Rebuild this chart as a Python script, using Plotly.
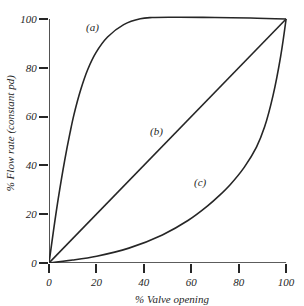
import plotly.graph_objects as go

# Data (% valve opening vs % flow rate)
quick_x = [0, 1.9, 4.0, 6.6, 8.9, 10.5, 13.4, 16.3, 19.8, 24.7, 31.5, 38.5, 43.5, 55, 70, 85, 100]
quick_y = [0, 13.3, 27.0, 42.0, 53.5, 60.7, 71.1, 79.2, 86.2, 92.6, 97.7, 100.1, 100.6, 100.7, 100.6, 100.4, 100]

linear_x = [0, 100]
linear_y = [0, 100]

eqp_x = [0, 10, 20.1, 33.7, 47.8, 58.6, 66.9, 71.9, 76.5, 82.4, 87.5, 90.9, 94.5, 97.7, 100]
eqp_y = [0, 1.2, 2.8, 6.1, 11.5, 17.4, 23.4, 27.7, 32.2, 39.3, 47.5, 55.7, 68.7, 84.7, 100]

tick_vals = [0, 20, 40, 60, 80, 100]
tick_text = ["0", "20", "40", "60", "80", "100"]

curve_labels = ["(a)", "(b)", "(c)"]
label_x = [18.3, 45.5, 64.0]
label_y = [96.5, 54.1, 33.0]

ink = "#262626"
font_family = "Liberation Serif"

fig = go.Figure()
for xs, ys in [(quick_x, quick_y), (linear_x, linear_y), (eqp_x, eqp_y)]:
    fig.add_trace(go.Scatter(x=xs, y=ys, mode="lines",
                             line=dict(color=ink, width=1.6, shape="spline", smoothing=1.0),
                             showlegend=False, hoverinfo="skip"))

for t, lx, ly in zip(curve_labels, label_x, label_y):
    fig.add_annotation(x=lx, y=ly, text=t, showarrow=False,
                       font=dict(family=font_family, size=11, color=ink, style="italic"))

# axis lines from 0 to 100
fig.add_shape(type="line", xref="x", yref="y", x0=0, y0=0, x1=100, y1=0,
              line=dict(color=ink, width=1.6))
fig.add_shape(type="line", xref="x", yref="y", x0=0, y0=0, x1=0, y1=100,
              line=dict(color=ink, width=1.6))

fig.add_annotation(xref="paper", yref="paper", x=0.516, y=-0.145,
                   xanchor="center", yanchor="middle",
                   text="% Valve opening", showarrow=False,
                   font=dict(family=font_family, size=11, color=ink, style="italic"))
fig.add_annotation(xref="paper", yref="paper", x=-0.162, y=0.522,
                   xanchor="center", yanchor="middle",
                   text="% Flow rate (constant pd)", showarrow=False, textangle=-90,
                   font=dict(family=font_family, size=11, color=ink, style="italic"))

axis_common = dict(showgrid=False, zeroline=False, showline=False,
                   ticks="outside", ticklen=9, tickwidth=1.5, tickcolor=ink,
                   tickvals=tick_vals, ticktext=tick_text,
                   tickfont=dict(family=font_family, size=11, color=ink, style="italic"))

fig.update_xaxes(range=[0, 100.8], **axis_common)
fig.update_yaxes(range=[0, 102.05], **axis_common)

fig.update_layout(width=304, height=306,
                  margin=dict(l=49, r=9, t=14, b=43),
                  paper_bgcolor="white", plot_bgcolor="white")

fig.write_html("out.html")
